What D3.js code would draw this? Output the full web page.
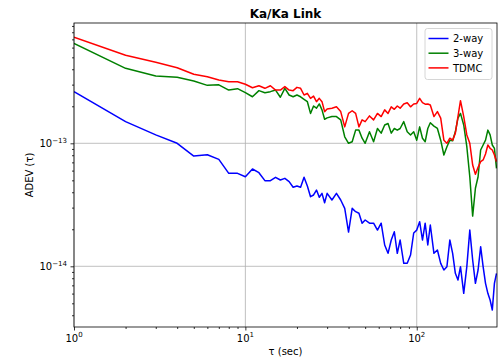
<!DOCTYPE html>
<html><head><meta charset="utf-8">
<script src="https://cdn.jsdelivr.net/npm/d3@7"></script>
<style>body{margin:0;background:#fff}svg{font-family:"DejaVu Sans",sans-serif;display:block}</style>
</head><body><svg id="c" width="503" height="362"></svg>
<script>
// averaging time tau (sec)
const tau = [1,2,3,4,5,6,7,8,9,10,11,12,13,14,15,16,17,18,19,20,21,22,23,24,25,26,27,28,29,30,
  32,34,36,38,40,42,44,46,48,50,53,56,59,62,65,68,71,74,77,80,
  84,88,92,96,100,104,108,112,116,120,126,132,138,144,150,156,162,168,174,180,
  188,196,204,212,220,228,236,244,252,260,268,276,284,292];
// ADEV values, in units of 1e-13
const unit = 1e-13;
const twoWay = [2.63,1.50,1.17,1.00,0.788,0.808,0.741,0.570,0.570,0.535,
  0.618,0.577,0.497,0.497,0.529,0.503,0.519,0.488,0.439,0.450,
  0.439,0.529,0.450,0.368,0.380,0.417,0.364,0.392,0.329,0.392,
  0.346,0.392,0.346,0.296,0.190,0.296,0.278,0.270,0.224,0.238,
  0.224,0.224,0.197,0.224,0.149,0.1275,0.1636,0.191,0.1275,0.1636,
  0.1057,0.1057,0.1235,0.1866,0.197,0.2305,0.1636,0.224,0.149,0.2167,
  0.1275,0.1357,0.1057,0.0933,0.0993,0.1636,0.1275,0.0877,0.0774,0.0993,
  0.0603,0.0993,0.197,0.1125,0.0727,0.0933,0.1443,0.0993,0.0727,0.0603,0.0532,0.0441,0.0727,0.0877];
const threeWay = [6.5,4.07,3.53,3.44,3.21,2.96,2.99,2.71,2.78,2.58,
  2.39,2.68,2.58,2.63,2.71,2.37,2.80,2.47,2.39,2.47,
  2.39,2.28,2.18,1.75,2.01,1.93,2.09,1.87,1.57,1.61,
  1.65,1.65,1.55,1.13,1.00,1.03,1.28,1.28,1.10,1.00,
  1.24,1.03,1.32,1.21,1.41,1.45,1.21,1.32,1.28,1.32,
  1.50,1.24,1.17,1.24,1.06,1.36,1.10,1.03,1.32,1.47,
  1.38,1.32,1.06,0.803,0.938,1.06,1.05,1.24,1.60,1.75,
  1.41,0.938,0.535,0.256,0.431,0.535,0.882,0.969,1.06,1.28,1.17,0.969,0.911,0.626];
const tdmc = [7.3,5.2,4.56,4.12,3.64,3.48,3.27,3.17,3.17,3.02,
  2.83,2.94,2.80,2.94,2.71,2.71,2.89,2.71,2.68,2.85,
  2.80,2.47,2.55,2.32,2.42,2.18,2.32,2.18,1.81,1.90,
  1.93,1.98,1.81,1.36,1.75,1.84,1.75,1.36,1.55,1.50,
  1.67,1.55,1.75,1.65,1.87,1.75,1.98,1.89,2.01,1.93,
  2.09,2.14,1.98,2.09,2.11,2.32,2.14,2.08,2.09,2.05,
  1.65,1.81,1.60,1.06,1.00,1.10,1.06,1.21,1.65,2.22,
  1.65,1.17,1.00,0.666,0.560,0.638,0.709,0.732,0.818,0.969,0.911,0.882,0.803,0.709];
const seriesNames = ["2-way","3-way","TDMC"];
const seriesColors = ["#0000ff","#008000","#ff0000"];
const xMajor = [1,10,100], xMajorExp = ["0","1","2"];
const yMajor = [1e-14,1e-13], yMajorExp = ["\u221214","\u221213"];
const title = "Ka/Ka Link", xLabel = "\u03c4 (sec)", yLabel = "ADEV (\u03c4)";

const L=74,R=497,T=23,B=327;
const svg = d3.select("#c");
const x = d3.scaleLog().domain([1,294]).range([L,R]);
const y = d3.scaleLog().domain([3.21e-15,9.51e-13]).range([B,T]);

const xMinor=[], yMinor=[];
[1,10,100].forEach(d=>{for(let k=2;k<=9;k++){const v=k*d; if(v<=294) xMinor.push(v);}});
[1e-15,1e-14,1e-13].forEach(d=>{for(let k=2;k<=9;k++){const v=k*d; if(v>=3.21e-15&&v<=9.51e-13) yMinor.push(v);}});

// grid
const g = svg.append("g");
g.selectAll(".gx").data(xMajor).join("line").attr("x1",d=>x(d)).attr("x2",d=>x(d)).attr("y1",T).attr("y2",B)
  .attr("stroke","#b0b0b0").attr("stroke-width",0.8);
g.selectAll(".gy").data(yMajor).join("line").attr("y1",d=>y(d)).attr("y2",d=>y(d)).attr("x1",L).attr("x2",R)
  .attr("stroke","#b0b0b0").attr("stroke-width",0.8);

// lines
svg.append("clipPath").attr("id","clip").append("rect").attr("x",L).attr("y",T).attr("width",R-L).attr("height",B-T);
const table = tau.map((t,i)=>({t, v:[twoWay[i]*unit, threeWay[i]*unit, tdmc[i]*unit]}));
const lg = svg.append("g").attr("clip-path","url(#clip)");
[0,1,2].forEach(s=>{
  const line = d3.line().x(d=>x(d.t)).y(d=>y(d.v[s]));
  lg.append("path").datum(table).attr("d",line).attr("fill","none")
    .attr("stroke",seriesColors[s]).attr("stroke-width",1.5).attr("stroke-linejoin","round");
});

// axes ticks
function ticks(axisFn, scale, vals, size, transform){
  const a = svg.append("g").attr("transform",transform)
    .call(axisFn(scale).tickValues(vals).tickSize(size).tickSizeOuter(0).tickFormat(""));
  a.select(".domain").remove();
  a.selectAll("line").attr("stroke","#000").attr("stroke-width",0.8);
}
ticks(d3.axisBottom, x, xMajor, 3.5, `translate(0,${B})`);
ticks(d3.axisBottom, x, xMinor, 2, `translate(0,${B})`);
ticks(d3.axisLeft, y, yMajor, 3.5, `translate(${L},0)`);
ticks(d3.axisLeft, y, yMinor, 2, `translate(${L},0)`);

// frame
svg.append("rect").attr("x",L).attr("y",T).attr("width",R-L).attr("height",B-T)
  .attr("fill","none").attr("stroke","#000").attr("stroke-width",0.8);

// tick labels
xMajor.forEach((d,i)=>{
  const t = svg.append("text").attr("x",x(d)).attr("y",341.5).attr("text-anchor","middle")
    .attr("font-size",10).attr("fill","#000");
  t.append("tspan").text("10");
  t.append("tspan").attr("dy",-4.5).attr("font-size",7).text(xMajorExp[i]);
});
yMajor.forEach((d,i)=>{
  const t = svg.append("text").attr("x",67).attr("y",y(d)+4).attr("text-anchor","end")
    .attr("font-size",10).attr("fill","#000");
  t.append("tspan").text("10");
  t.append("tspan").attr("dy",-4.5).attr("font-size",7).text(yMajorExp[i]);
});

// labels
svg.append("text").attr("x",(L+R)/2).attr("y",18).attr("text-anchor","middle")
  .attr("font-size",12).attr("font-weight","bold").text(title);
svg.append("text").attr("x",(L+R)/2).attr("y",355).attr("text-anchor","middle")
  .attr("font-size",10).text(xLabel);
svg.append("text").attr("transform",`translate(33,${(T+B)/2}) rotate(-90)`).attr("text-anchor","middle")
  .attr("font-size",10).text(yLabel);

// legend
const leg = svg.append("g");
leg.append("rect").attr("x",425).attr("y",28.5).attr("width",67).attr("height",51).attr("rx",2.5)
  .attr("fill","#fff").attr("fill-opacity",0.8).attr("stroke","#cccccc").attr("stroke-width",0.8);
seriesNames.forEach((n,i)=>{
  const cy = 38.5 + i*14.7;
  leg.append("line").attr("x1",428.5).attr("x2",448.5).attr("y1",cy).attr("y2",cy)
    .attr("stroke",seriesColors[i]).attr("stroke-width",1.5);
  leg.append("text").attr("x",453).attr("y",cy+3.6).attr("font-size",10).text(n);
});
</script></body></html>
